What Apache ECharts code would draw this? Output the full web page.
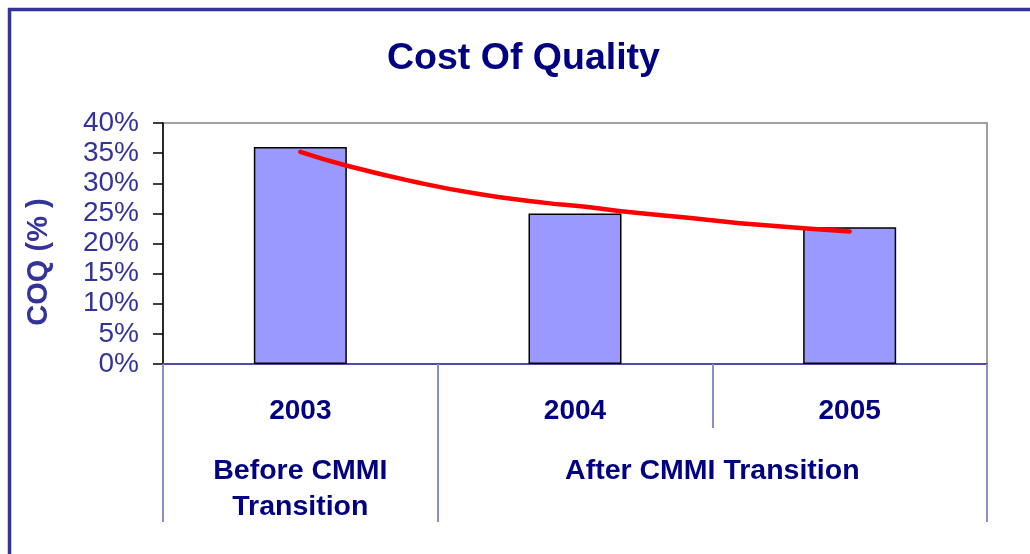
<!DOCTYPE html>
<html>
<head>
<meta charset="utf-8">
<script src="https://cdn.jsdelivr.net/npm/echarts@6/dist/echarts.min.js"></script>
<style>
  html, body { margin: 0; padding: 0; background: #fff; }
  #chart { width: 1030px; height: 554px; }
</style>
</head>
<body>
<div id="chart"></div>
<script>
// values
const years = ['2003', '2004', '2005'];
const coq = [36, 25, 22.7];

// phase groups under the year labels (positions in category units, 0..3)
const phases = ['Before CMMI\nTransition', 'After CMMI Transition'];
const phaseCenters = [0.5, 2];
const phaseEdges = [0, 1, 3];

// red trend curve
const trendX = [0.5, 0.67, 0.91, 1.15, 1.4, 1.52, 1.66, 1.93, 2.17, 2.5];
const trendY = [35.2, 32.9, 30.3, 28.2, 26.7, 26.2, 25.4, 24.2, 23.1, 22.0];

const navy = '#000080';
const blue = '#333399';
const sep = '#8c8cc8';
const font = '"Liberation Sans", Arial, sans-serif';

const chart = echarts.init(document.getElementById('chart'));

const option = {
    backgroundColor: '#fff',
    animation: false,
    title: {
        text: 'Cost Of Quality',
        left: 382,
        top: 35,
        textStyle: { color: navy, fontSize: 37.5, fontWeight: 'bold', fontFamily: font }
    },
    graphic: [{
        type: 'rect',
        shape: { x: 9.5, y: 9.5, width: 1100, height: 600 },
        style: { fill: 'none', stroke: '#353599', lineWidth: 3.5 },
        silent: true
    }, {
        type: 'text',
        x: 39,
        y: 262,
        rotation: Math.PI / 2,
        style: {
            text: 'COQ (% )',
            fill: blue,
            font: 'bold 29px ' + font,
            align: 'center',
            verticalAlign: 'middle'
        }
    }],
    grid: {
        left: 163, top: 123, width: 824, height: 241,
        show: true,
        borderColor: '#a0a0a0',
        borderWidth: 2,
        containLabel: false
    },
    xAxis: [{
        type: 'category',
        data: years,
        position: 'bottom',
        axisLine: { lineStyle: { color: '#4d4da6', width: 2 } },
        axisTick: { show: true, length: 64, lineStyle: { color: sep, width: 2 } },
        axisLabel: {
            color: navy, fontSize: 28, fontWeight: 'bold', fontFamily: font,
            margin: 33
        },
        splitLine: { show: false }
    }, {
        type: 'value',
        position: 'bottom',
        offset: 64,
        min: 0,
        max: 3,
        axisLine: { show: false },
        axisTick: {
            show: true, length: 94, customValues: phaseEdges,
            lineStyle: { color: sep, width: 2 }
        },
        axisLabel: {
            customValues: phaseCenters,
            formatter: function (v) { return phases[phaseCenters.indexOf(v)]; },
            color: navy, fontSize: 28.5, fontWeight: 'bold', fontFamily: font,
            lineHeight: 36,
            margin: 25
        },
        splitLine: { show: false }
    }],
    yAxis: {
        type: 'value',
        min: 0,
        max: 40,
        interval: 5,
        axisLine: { show: true, lineStyle: { color: '#000', width: 1.5 } },
        axisTick: { show: true, length: 10, lineStyle: { color: '#000', width: 1.5 } },
        axisLabel: {
            formatter: '{value}%',
            color: blue, fontSize: 28, fontFamily: font,
            margin: 24
        },
        splitLine: { show: false }
    },
    series: [{
        type: 'bar',
        data: coq,
        barWidth: 93,
        itemStyle: { color: '#9999ff', borderColor: '#000', borderWidth: 1.5 }
    }, {
        type: 'line',
        xAxisIndex: 1,
        data: trendX.map((x, i) => [x, trendY[i]]),
        smooth: true,
        showSymbol: false,
        lineStyle: { color: '#ff0000', width: 4.5, cap: 'round' },
        z: 5
    }]
};

chart.setOption(option);
</script>
</body>
</html>
